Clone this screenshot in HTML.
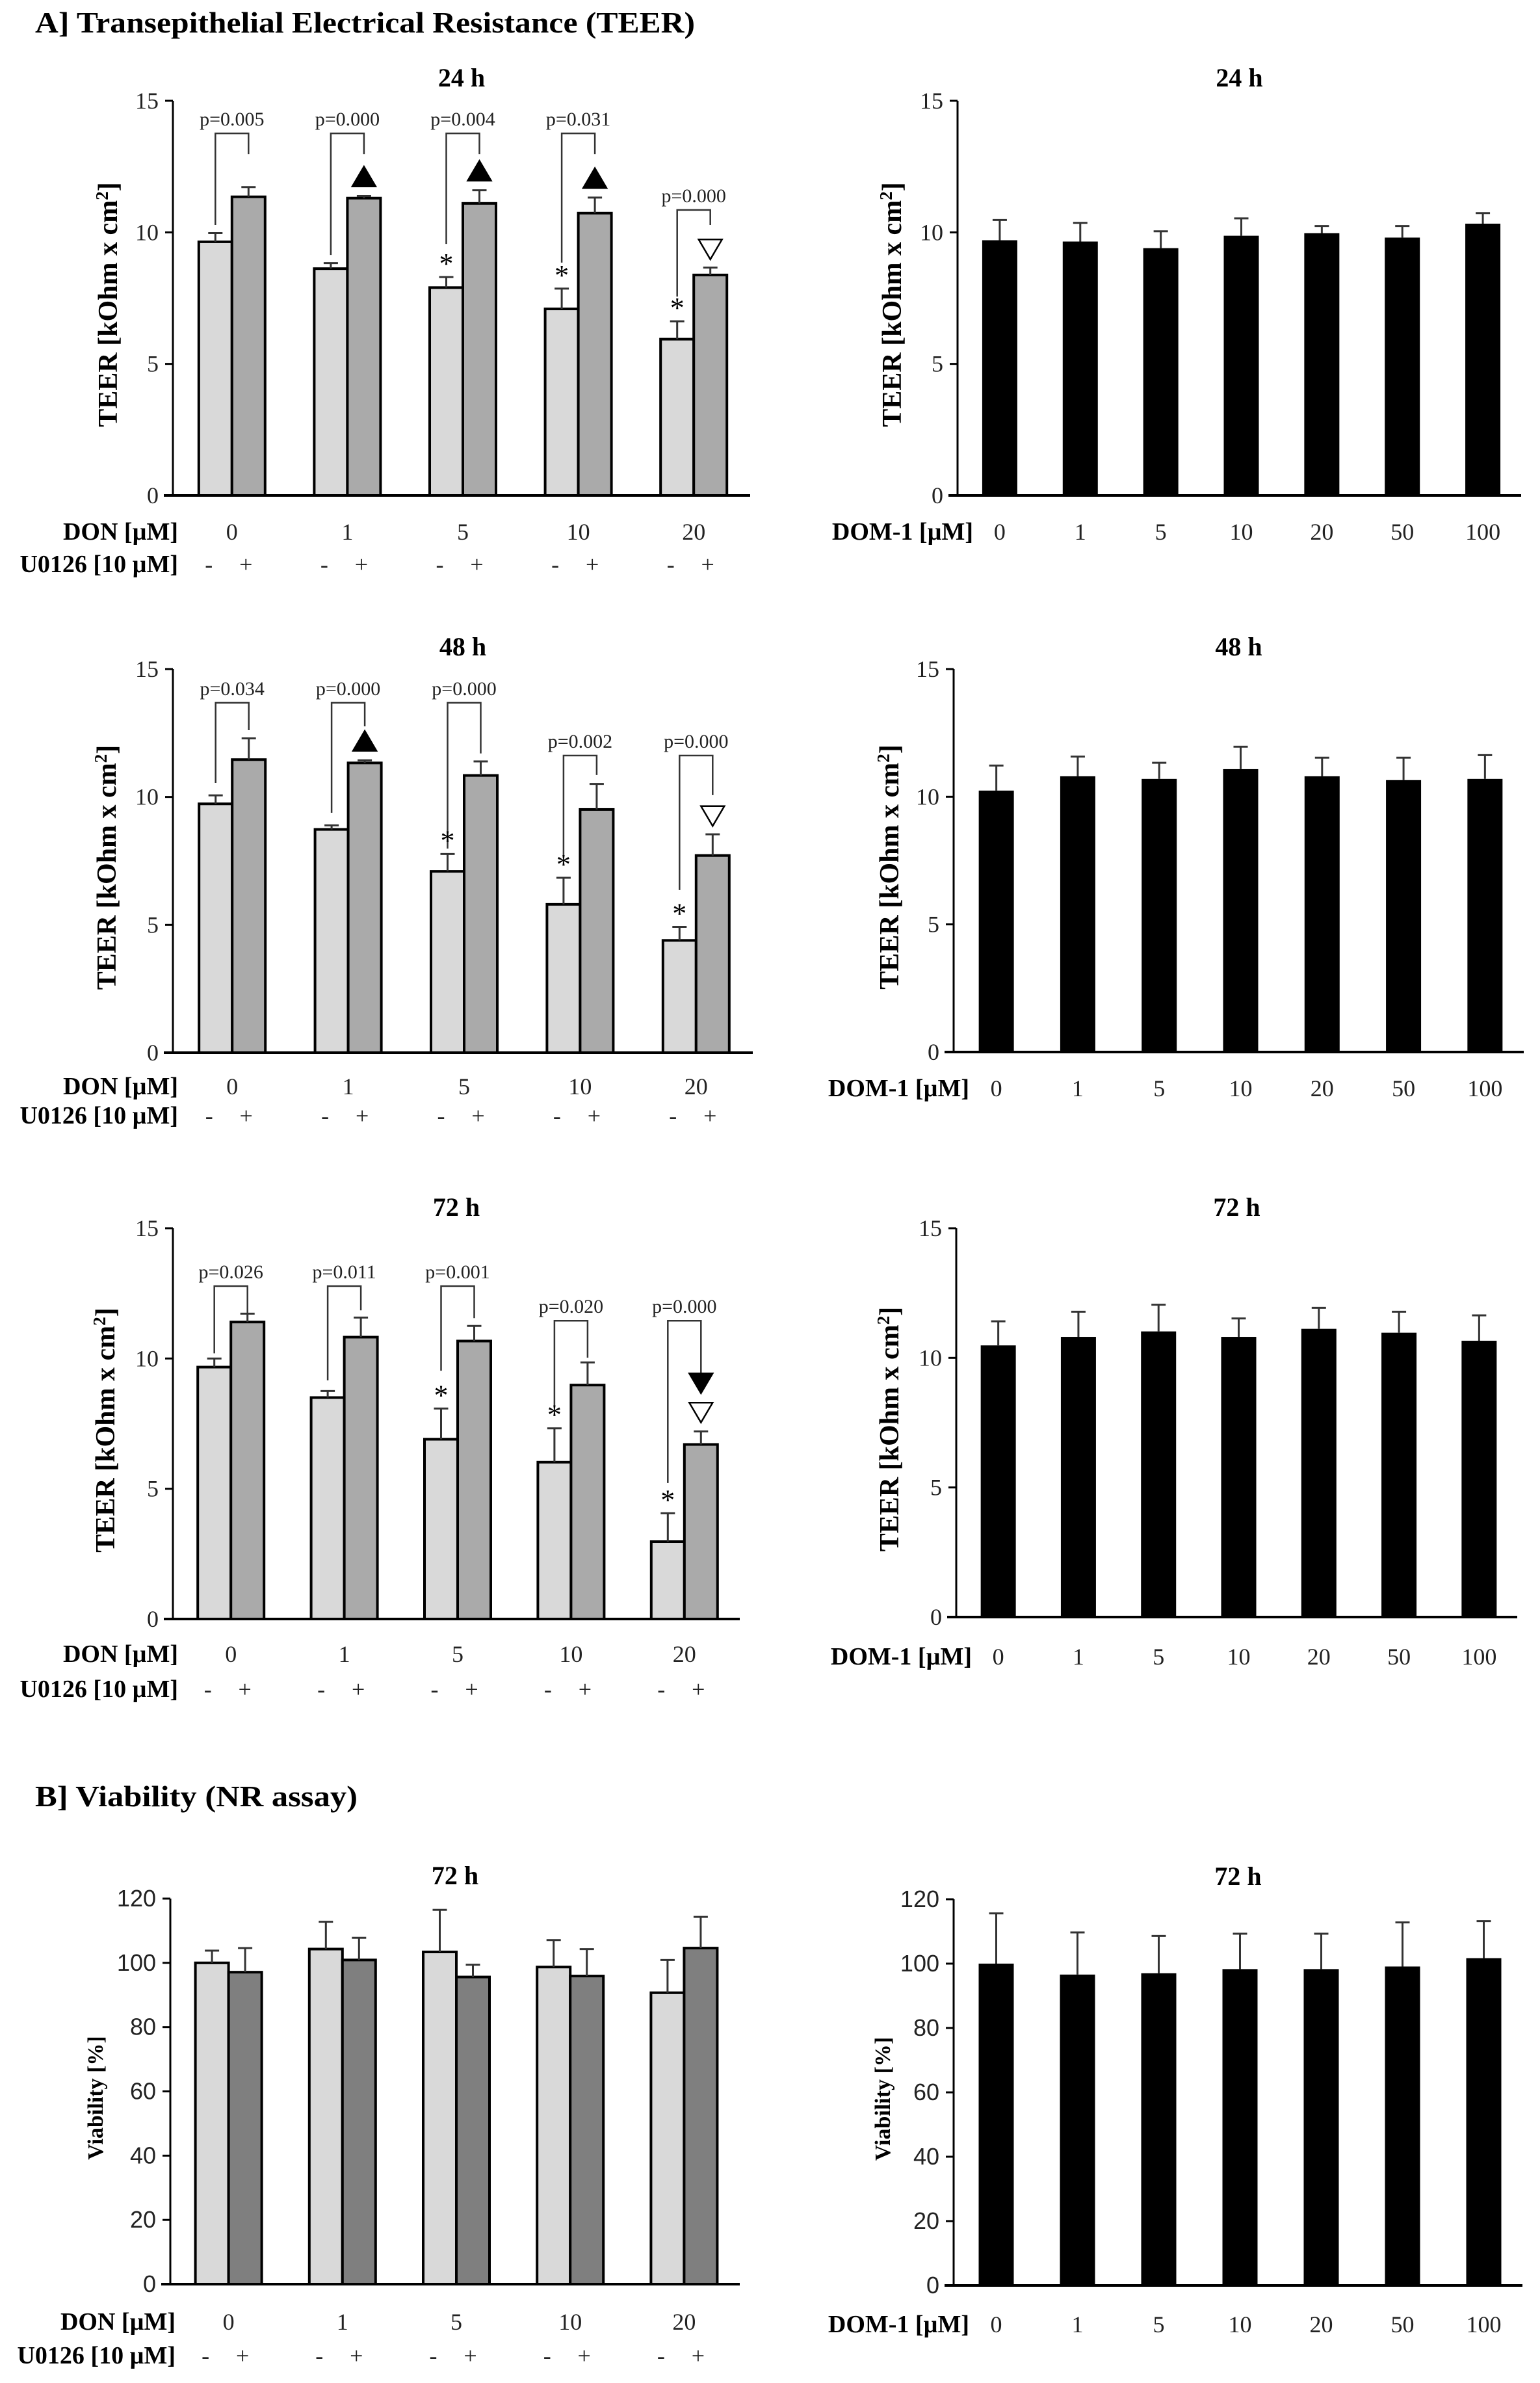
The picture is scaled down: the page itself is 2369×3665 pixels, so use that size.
<!DOCTYPE html>
<html><head><meta charset="utf-8"><title>TEER and Viability</title>
<style>
html,body{margin:0;padding:0;background:#fff;}
svg{display:block;}
.serif{font-family:"Liberation Serif",serif;}
.sans{font-family:"Liberation Sans",sans-serif;}
</style></head>
<body>
<svg id="fig" width="2369" height="3665" viewBox="0 0 2369 3665" xmlns="http://www.w3.org/2000/svg">
<rect width="2369" height="3665" fill="#fff"/>
<text class="serif" x="54" y="50" font-size="46" font-weight="bold" textLength="1015" lengthAdjust="spacingAndGlyphs">A] Transepithelial Electrical Resistance (TEER)</text>
<text class="serif" x="54" y="2778" font-size="46" font-weight="bold" textLength="496" lengthAdjust="spacingAndGlyphs">B] Viability (NR assay)</text>
</svg>
<script>
// ---------- DATA ----------
const donCats = ["0","1","5","10","20"];
const domCats = ["0","1","5","10","20","50","100"];
const teerTicks = [0,5,10,15];
const viaTicks = [0,20,40,60,80,100,120];

// 24 h DON
const don24Light = [9.64,8.62,7.9,7.09,5.94];
const don24LightErr = [9.97,8.83,8.3,7.86,6.62];
const don24Dark = [11.35,11.3,11.1,10.73,8.38];
const don24DarkErr = [11.72,11.38,11.6,11.32,8.66];
const don24P = ["p=0.005","p=0.000","p=0.004","p=0.031","p=0.000"];
const don24PTop = [13.76,13.76,13.76,13.76,10.85];
const don24PLeft = [10.28,9.14,9.56,8.85,7.56];
const don24PRight = [12.97,12.97,12.97,12.97,10.28];
const don24LightMarks = ["","","*","*","*"];
const don24DarkMarks = ["","up","up","up","open"];

// 48 h DON
const don48Light = [9.73,8.73,7.09,5.8,4.39];
const don48LightErr = [10.06,8.89,7.77,6.84,4.92];
const don48Dark = [11.46,11.33,10.84,9.51,7.71];
const don48DarkErr = [12.29,11.43,11.39,10.51,8.54];
const don48P = ["p=0.034","p=0.000","p=0.000","p=0.002","p=0.000"];
const don48PTop = [13.68,13.68,13.68,11.62,11.62];
const don48PLeft = [10.55,9.38,7.98,7.63,6.36];
const don48PRight = [12.61,12.76,11.7,10.86,10.07];
const don48LightMarks = ["","","*","*","*"];
const don48DarkMarks = ["","up","","","open"];

// 72 h DON
const don72Light = [9.67,8.5,6.9,6.02,2.97];
const don72LightErr = [10.0,8.75,8.08,7.32,4.06];
const don72Dark = [11.4,10.82,10.67,8.98,6.7];
const don72DarkErr = [11.72,11.57,11.25,9.85,7.2];
const don72P = ["p=0.026","p=0.011","p=0.001","p=0.020","p=0.000"];
const don72PTop = [12.78,12.78,12.78,11.45,11.45];
const don72PLeft = [10.2,9.16,9.53,8.19,5.22];
const don72PRight = [11.75,11.85,11.55,10.03,9.43];
const don72LightMarks = ["","","*","*","*"];
const don72DarkMarks = ["","","","","down+open"];

// DOM-1
const dom24 = [9.7,9.65,9.4,9.87,9.97,9.8,10.33];
const dom24Err = [10.47,10.36,10.04,10.53,10.24,10.24,10.73];
const dom48 = [10.24,10.8,10.7,11.08,10.8,10.65,10.7];
const dom48Err = [11.22,11.57,11.33,11.96,11.53,11.53,11.63];
const dom72 = [10.48,10.81,11.02,10.81,11.12,10.97,10.66];
const dom72Err = [11.41,11.78,12.05,11.52,11.93,11.78,11.64];

// Viability
const viaLight = [100,104.3,103.4,98.7,90.7];
const viaLightErr = [103.8,112.8,116.5,107.1,100.9];
const viaDark = [97.1,100.9,95.6,95.9,104.6];
const viaDarkErr = [104.6,107.8,99.4,104.3,114.3];
const viaDom = [100,96.6,97.0,98.3,98.3,99.1,101.7];
const viaDomErr = [115.6,109.7,108.6,109.3,109.3,112.8,113.2];

// ---------- DRAWING ----------
const NS = "http://www.w3.org/2000/svg";
const svg = document.getElementById("fig");
function mk(tag, attrs, parent, text){
  const e = document.createElementNS(NS, tag);
  for (const k in attrs) e.setAttribute(k, attrs[k]);
  if (text !== undefined) e.textContent = text;
  (parent || svg).appendChild(e);
  return e;
}

function axes(g, c, ticks, sans){
  const yS = v => c.y0 - (v / c.max) * (c.y0 - c.yTop);
  const ax = mk("line", {x1:c.x0, y1:c.yTop, x2:c.x0, y2:c.y0, stroke:"#000","stroke-width":3}, g);
  
  
  const bx = mk("line", {x1:c.x0-14, y1:c.y0, x2:c.x1, y2:c.y0, stroke:"#000","stroke-width":4}, g);
  
  
  ticks.forEach(t => {
    const y = yS(t);
    mk("line", {x1:c.x0-12, y1:y, x2:c.x0, y2:y, stroke:"#000","stroke-width":3}, g);
    const tl = mk("text", {x:c.x0-22, y:y+12, "text-anchor":"end", "font-size": sans?36:36, class: sans?"sans":"serif", fill:"#222"}, g, String(t));
    
    
  });
  const tt = mk("text", {x:(c.x0+c.x1)/2, y:c.titleY, "text-anchor":"middle", "font-size":40, "font-weight":"bold", class:"serif"}, g, c.title);
  
  
  const yc = (c.yTop + c.y0)/2 + 10;
  const yt = mk("text", {x:c.yTitleX, y:yc, transform:`rotate(-90 ${c.yTitleX} ${yc})`, "text-anchor":"middle", "font-size":c.yTitleSize, "font-weight":"bold", class:"serif"}, g);
  
  
  if (c.yTitle === "TEER"){
    mk("tspan", {}, yt, "TEER [kOhm x cm");
    mk("tspan", {dy:-14, "font-size":c.yTitleSize*0.65}, yt, "2");
    mk("tspan", {dy:14}, yt, "]");
  } else {
    yt.textContent = "Viability [%]";
  }
  return yS;
}

function errBar(g, x, yTopBar, yErr){
  mk("line", {x1:x, y1:yTopBar, x2:x, y2:yErr, stroke:"#333","stroke-width":3}, g);
  mk("line", {x1:x-11, y1:yErr, x2:x+11, y2:yErr, stroke:"#333","stroke-width":3}, g);
}

function tri(g, cx, cy, kind){
  const s = 18;
  let pts, fill;
  if (kind === "up"){ pts = `${cx-s},${cy+s*0.85} ${cx+s},${cy+s*0.85} ${cx},${cy-s*0.85}`; fill="#000"; }
  else if (kind === "down"){ pts = `${cx-s},${cy-s*0.85} ${cx+s},${cy-s*0.85} ${cx},${cy+s*0.85}`; fill="#000"; }
  else { pts = `${cx-s},${cy-s*0.85} ${cx+s},${cy-s*0.85} ${cx},${cy+s*0.85}`; fill="#fff"; }
  const p = mk("polygon", {points:pts, fill:fill, stroke:"#000","stroke-width":2.5}, g);
  
  
}

function grouped(c, light, lightErr, dark, darkErr, pl, pTop, pLeft, pRight, lMarks, dMarks, darkColor, sans){
  const g = mk("g", {});
  
  
  const yS = axes(g, c, c.ticks, sans);
  const gw = (c.x1 - c.x0) / donCats.length;
  const bw = 51;
  donCats.forEach((cat, i) => {
    const cx = c.x0 + gw*(i+0.5) + 2;
    const lx = cx - bw, dx = cx;
    const lb = mk("rect", {x:lx, y:yS(light[i]), width:bw, height:c.y0-yS(light[i]), fill:"#d9d9d9", stroke:"#000","stroke-width":4}, g);
    
    
    errBar(g, lx+bw/2, yS(light[i]), yS(lightErr[i]));
    const db = mk("rect", {x:dx, y:yS(dark[i]), width:bw, height:c.y0-yS(dark[i]), fill:darkColor, stroke:"#000","stroke-width":4}, g);
    
    
    errBar(g, dx+bw/2, yS(dark[i]), yS(darkErr[i]));
    const cl = mk("text", {x:cx, y:c.labelY, "text-anchor":"middle", "font-size":36, class:"serif", fill:"#222"}, g, cat);
    
    
    const m = mk("text", {x:lx+bw/2-10, y:c.signY, "text-anchor":"middle", "font-size":36, class:"serif", fill:"#222"}, g, "-");
    
    
    const p = mk("text", {x:dx+bw/2-4, y:c.signY, "text-anchor":"middle", "font-size":36, class:"serif", fill:"#222"}, g, "+");
    
    
    if (pl){
      const xl = lx+bw/2, xr = dx+bw/2, yt = yS(pTop[i]);
      const br = mk("polyline", {points:`${xl},${yS(pLeft[i])} ${xl},${yt} ${xr},${yt} ${xr},${yS(pRight[i])}`, fill:"none", stroke:"#333","stroke-width":2.5}, g);
      
      
      const pt = mk("text", {x:(xl+xr)/2, y:yt-12, "text-anchor":"middle", "font-size":30, class:"serif", fill:"#222"}, g, pl[i]);
      
      
      if (lMarks[i] === "*"){
        const st = mk("text", {x:xl, y:yS(lightErr[i])-6, "text-anchor":"middle", "font-size":44, class:"serif"}, g, "*");
        
        
      }
      const de = yS(darkErr[i]);
      if (dMarks[i] === "up") tri(g, xr, de-30, "up");
      if (dMarks[i] === "open") tri(g, xr, de-28, "open");
      if (dMarks[i] === "down+open"){ tri(g, xr, de-29, "open"); tri(g, xr, de-74, "down"); }
    }
  });
  const dl = mk("text", {x:c.x0+8, y:c.labelY, "text-anchor":"end", "font-size":38, "font-weight":"bold", class:"serif"}, g, "DON [\u00b5M]");
  
  
  const ul = mk("text", {x:c.x0+8, y:c.signY, "text-anchor":"end", "font-size":38, "font-weight":"bold", class:"serif"}, g, "U0126 [10 \u00b5M]");
  
  
}

function single(c, vals, errs, sans){
  const g = mk("g", {});
  
  
  const yS = axes(g, c, c.ticks, sans);
  const gw = (c.x1 - c.x0) / domCats.length;
  const bw = 54;
  domCats.forEach((cat, i) => {
    const cx = c.x0 + gw*(i+0.5) + 3;
    const b = mk("rect", {x:cx-bw/2, y:yS(vals[i]), width:bw, height:c.y0-yS(vals[i]), fill:"#000"}, g);
    
    
    errBar(g, cx, yS(vals[i]), yS(errs[i]));
    const cl = mk("text", {x:cx, y:c.labelY, "text-anchor":"middle", "font-size":36, class:"serif", fill:"#222"}, g, cat);
    
    
  });
  const dl = mk("text", {x:c.x0+24, y:c.labelY, "text-anchor":"end", "font-size":38, "font-weight":"bold", class:"serif"}, g, "DOM-1 [\u00b5M]");
  
  
}

// Left panels
grouped({name:"teer-don-24h", x0:266, x1:1154, yTop:155, y0:762, max:15, ticks:teerTicks, title:"24 h", titleY:133, labelY:830, signY:880, yTitle:"TEER", yTitleX:180, yTitleSize:42},
  don24Light, don24LightErr, don24Dark, don24DarkErr, don24P, don24PTop, don24PLeft, don24PRight, don24LightMarks, don24DarkMarks, "#aaaaaa", false);
grouped({name:"teer-don-48h", x0:266, x1:1158, yTop:1029, y0:1619, max:15, ticks:teerTicks, title:"48 h", titleY:1008, labelY:1683, signY:1728, yTitle:"TEER", yTitleX:178, yTitleSize:42},
  don48Light, don48LightErr, don48Dark, don48DarkErr, don48P, don48PTop, don48PLeft, don48PRight, don48LightMarks, don48DarkMarks, "#aaaaaa", false);
grouped({name:"teer-don-72h", x0:266, x1:1138, yTop:1889, y0:2490, max:15, ticks:teerTicks, title:"72 h", titleY:1870, labelY:2556, signY:2610, yTitle:"TEER", yTitleX:176, yTitleSize:42},
  don72Light, don72LightErr, don72Dark, don72DarkErr, don72P, don72PTop, don72PLeft, don72PRight, don72LightMarks, don72DarkMarks, "#aaaaaa", false);
grouped({name:"viability-don-72h", x0:262, x1:1138, yTop:2920, y0:3513, max:120, ticks:viaTicks, title:"72 h", titleY:2898, labelY:3583, signY:3635, yTitle:"VIA", yTitleX:158, yTitleSize:34},
  viaLight, viaLightErr, viaDark, viaDarkErr, null, null, null, null, null, null, "#7f7f7f", true);

// Right DOM-1 panels
single({name:"teer-dom1-24h", x0:1473, x1:2340, yTop:155, y0:762, max:15, ticks:teerTicks, title:"24 h", titleY:133, labelY:830, yTitle:"TEER", yTitleX:1386, yTitleSize:42}, dom24, dom24Err, false);
single({name:"teer-dom1-48h", x0:1467, x1:2344, yTop:1029, y0:1618, max:15, ticks:teerTicks, title:"48 h", titleY:1008, labelY:1686, yTitle:"TEER", yTitleX:1382, yTitleSize:42}, dom48, dom48Err, false);
single({name:"teer-dom1-72h", x0:1471, x1:2334, yTop:1889, y0:2487, max:15, ticks:teerTicks, title:"72 h", titleY:1870, labelY:2560, yTitle:"TEER", yTitleX:1382, yTitleSize:42}, dom72, dom72Err, false);
single({name:"viability-dom1-72h", x0:1467, x1:2342, yTop:2921, y0:3515, max:120, ticks:viaTicks, title:"72 h", titleY:2899, labelY:3587, yTitle:"VIA", yTitleX:1369, yTitleSize:34}, viaDom, viaDomErr, true);
</script>
</body></html>
